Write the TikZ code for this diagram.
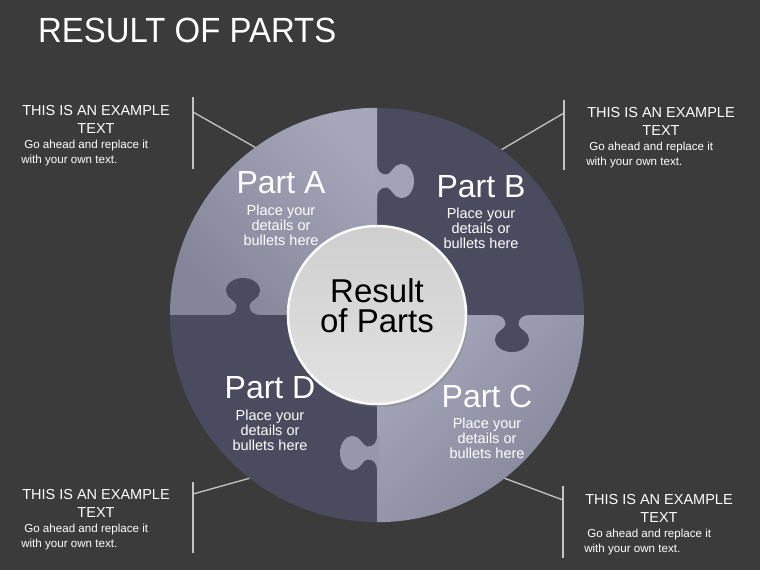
\documentclass[tikz,border=0pt]{standalone}
\usepackage{fontspec}
\setmainfont{Liberation Sans}
\newfontfamily\narrowfont[FakeStretch=0.94]{Liberation Sans}
\usetikzlibrary{positioning,shadows}
\definecolor{slidebg}{HTML}{3B3B3B}
\definecolor{piecedark}{HTML}{4A4B5E}
\definecolor{lighttop}{HTML}{A6A6BA}
\definecolor{lightlow}{HTML}{85859A}
\definecolor{hubtop}{HTML}{CFCFCF}
\definecolor{hublow}{HTML}{E2E2E2}
\definecolor{rulegray}{HTML}{C4C4C4}

\tikzset{
  knob/.pic={
    \fill[pic actions] (-18,-2) -- (-18,0) .. controls (-9,0) and (-6.5,4) .. (-6.5,10)
      .. controls (-7,14) and (-17,17) .. (-17,24)
      .. controls (-17,32) and (-9,37) .. (0,37)
      .. controls (9,37) and (17,32) .. (17,24)
      .. controls (17,17) and (7,14) .. (6.5,10)
      .. controls (6.5,4) and (9,0) .. (18,0) -- (18,-2) -- cycle;
  }
}

\begin{document}
\begin{tikzpicture}[x=1pt,y=-1pt,
    slidetitle/.style={anchor=base west,text=white,inner sep=0pt,font=\narrowfont\fontsize{35}{40}\selectfont},
    parthead/.style={anchor=base,text=white,inner sep=0pt,font=\fontsize{32}{36}\selectfont},
    partbody/.style={text=white,inner sep=0pt,align=center,font=\fontsize{14.5}{15}\selectfont},
    sidehead/.style={anchor=north,text=white,inner sep=0pt,align=center,font=\fontsize{14.5}{18}\selectfont},
    sidebody/.style={text=white,inner sep=0pt,align=left,font=\fontsize{11.6}{14.5}\selectfont},
    bracket/.style={draw=rulegray,line width=1.3pt},
    disc/.style={circle,fill=piecedark,minimum size=414pt,inner sep=0pt},
    hub/.style={circle,draw=white!96!gray,line width=2.5pt,top color=hubtop,bottom color=hublow,
                minimum size=178pt,inner sep=0pt,
                drop shadow={shadow xshift=2pt,shadow yshift=-3pt,opacity=0.4}},
    hubtext/.style={align=center,inner sep=0pt,text=black,font=\fontsize{33}{30}\selectfont}]
  \fill[slidebg] (0,0) rectangle (760,570);
  \useasboundingbox (0,0) rectangle (760,570);

  \node[slidetitle] (ttl) at (38,42) {RESULT OF PARTS};

  \node[disc] (disc) at (377,315) {};
  \shade[top color=lighttop,bottom color=lightlow,shading angle=-45]
    (disc.center) -- (disc.north) arc[start angle=90,end angle=180,radius=207pt] -- cycle;
  \shade[top color=lighttop,bottom color=lightlow,shading angle=45]
    (disc.center) -- (disc.south) arc[start angle=-90,end angle=0,radius=207pt] -- cycle;
  \pic[fill=lighttop!90!lightlow,rotate=90] at (377,181) {knob};
  \pic[fill=lighttop!55!lightlow,rotate=-90] at (377,453) {knob};
  \pic[fill=piecedark,rotate=180] at (243,315) {knob};
  \pic[fill=piecedark] at (512,315) {knob};

  \node[hub] (hub) at (377,315) {};
  \node[hubtext] (res) at ([yshift=9.5pt]hub.center) {Result\\of Parts};

  \node[parthead] (pA) at (281,193) {Part A};
  \node[partbody,below=11.5pt of pA.base] (bA) {Place your\\details or\\bullets here};
  \node[parthead] (pB) at (481,197) {Part B};
  \node[partbody,below=10.5pt of pB.base] (bB) {Place your\\details or\\bullets here};
  \node[parthead] (pC) at (487,407) {Part C};
  \node[partbody,below=10.5pt of pC.base] (bC) {Place your\\details or\\bullets here};
  \node[parthead] (pD) at (270,398) {Part D};
  \node[partbody,below=11.5pt of pD.base] (bD) {Place your\\details or\\bullets here};

  \node[sidehead] (hLT) at (96,105) {THIS IS AN EXAMPLE\\TEXT};
  \node[sidebody,below right=6.5pt and -1pt of hLT.south west] (tLT) {\hspace*{3pt}Go ahead and replace it\\with your own text.};
  \node[sidehead] (hRT) at (661,107) {THIS IS AN EXAMPLE\\TEXT};
  \node[sidebody,below right=6.5pt and -1pt of hRT.south west] (tRT) {\hspace*{3pt}Go ahead and replace it\\with your own text.};
  \node[sidehead] (hLB) at (96,489) {THIS IS AN EXAMPLE\\TEXT};
  \node[sidebody,below right=6.5pt and -1pt of hLB.south west] (tLB) {\hspace*{3pt}Go ahead and replace it\\with your own text.};
  \node[sidehead] (hRB) at (659,494) {THIS IS AN EXAMPLE\\TEXT};
  \node[sidebody,below right=6.5pt and -1pt of hRB.south west] (tRB) {\hspace*{3pt}Go ahead and replace it\\with your own text.};

  \coordinate (lt1) at (193,97);  \coordinate (lt2) at (193,169); \coordinate (ltm) at (193,112);
  \coordinate (rt1) at (564,100); \coordinate (rt2) at (564,170); \coordinate (rtm) at (564,113);
  \coordinate (lb1) at (193,482); \coordinate (lb2) at (193,553); \coordinate (lbm) at (193,494);
  \coordinate (rb1) at (563,486); \coordinate (rb2) at (563,558); \coordinate (rbm) at (563,500);
  \draw[bracket] (lt1) -- (lt2);
  \draw[bracket] (ltm) -- (disc.126);
  \draw[bracket] (rt1) -- (rt2);
  \draw[bracket] (rtm) -- (disc.53);
  \draw[bracket] (lb1) -- (lb2);
  \draw[bracket] (lbm) -- (disc.232);
  \draw[bracket] (rb1) -- (rb2);
  \draw[bracket] (rbm) -- (disc.308);
\end{tikzpicture}
\end{document}
